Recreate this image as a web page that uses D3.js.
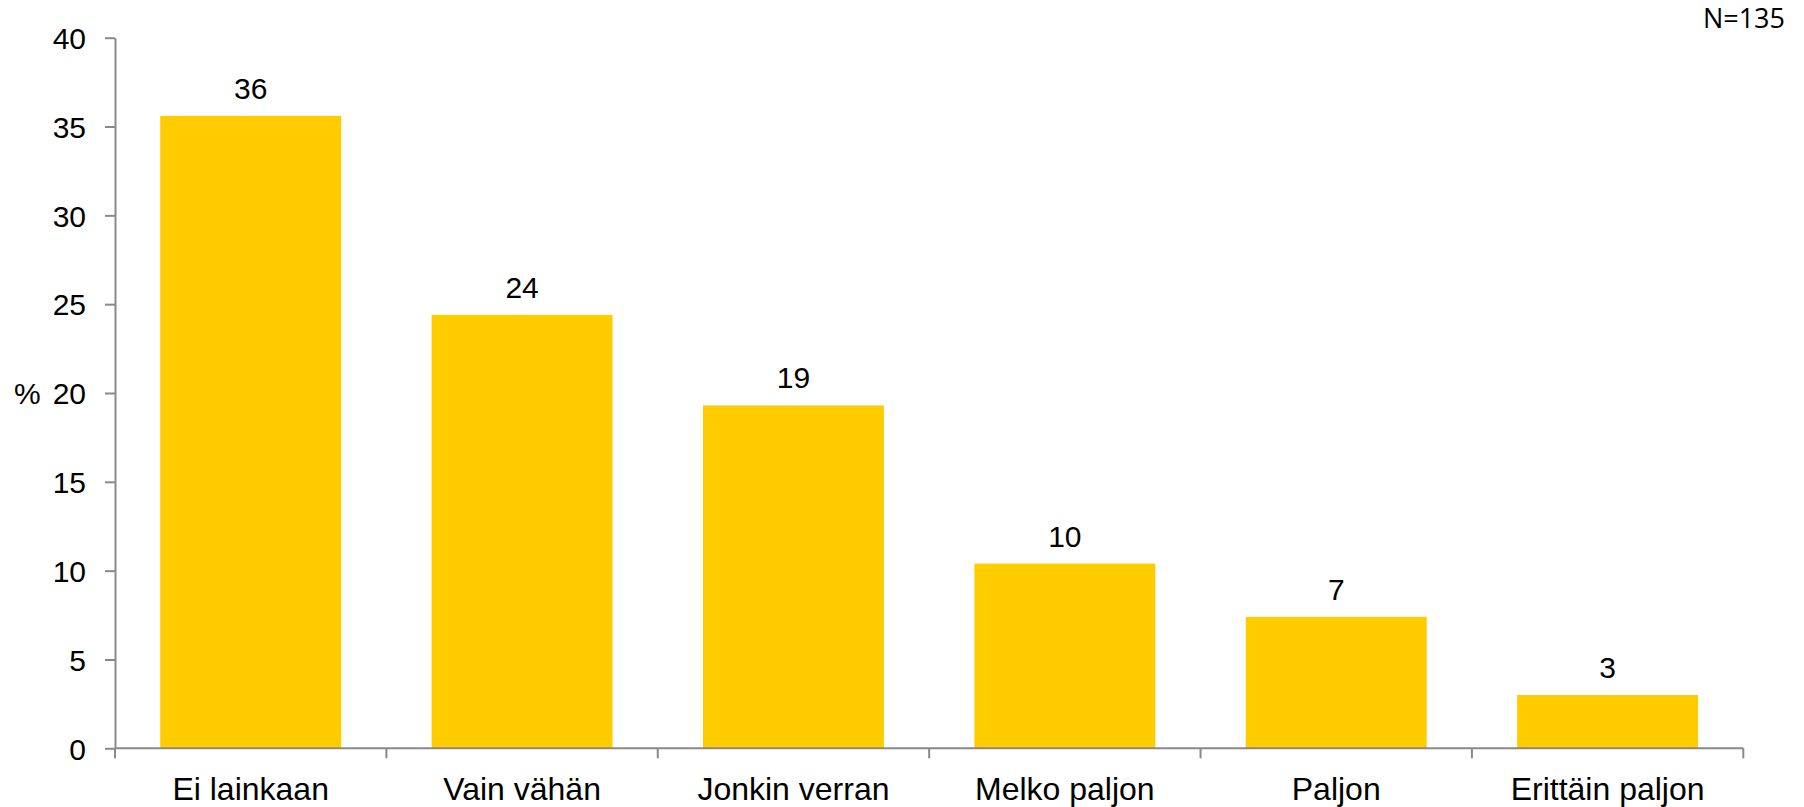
<!DOCTYPE html>
<html lang="fi">
<head>
<meta charset="utf-8" />
<title>Kysely</title>
<script src="https://cdn.jsdelivr.net/npm/d3@7"></script>
<style>
  body { margin: 0; background: #fff; }
  text { font-family: "Liberation Sans", Arial, sans-serif; fill: #000; }
</style>
</head>
<body>
<div id="chart"></div>
<script>
// data (percent, N=135)
var categories = ["Ei lainkaan", "Vain vähän", "Jonkin verran", "Melko paljon", "Paljon", "Erittäin paljon"];
var values = [35.6, 24.4, 19.3, 10.4, 7.4, 3.0];
var valueLabels = ["36", "24", "19", "10", "7", "3"];
var yTicks = [0, 5, 10, 15, 20, 25, 30, 35, 40];

var W = 1804, H = 807;
var margin = {top: 37.7, right: 60.7, bottom: 58.7, left: 115};
var width = W - margin.left - margin.right,
    height = H - margin.top - margin.bottom;

var svg = d3.select("#chart").append("svg")
    .attr("width", W)
    .attr("height", H);

var g = svg.append("g")
    .attr("transform", "translate(" + margin.left + "," + margin.top + ")");

var x = d3.scaleBand()
  .domain(categories)
  .range([0, width])
  .paddingInner(1/3)
  .paddingOuter(1/6);

var y = d3.scaleLinear()
  .domain([0, 40])
  .range([height, 0]);

// bars
g.selectAll("rect.bar")
  .data(values)
  .enter().append("rect")
    .attr("class", "bar")
    .attr("x", function(d, i) { return x(categories[i]); })
    .attr("y", function(d) { return y(d); })
    .attr("width", x.bandwidth())
    .attr("height", function(d) { return height - y(d); })
    .attr("fill", "#ffcc00");

// value labels
g.selectAll("text.val")
  .data(values)
  .enter().append("text")
    .attr("class", "val")
    .attr("x", function(d, i) { return x(categories[i]) + x.bandwidth() / 2; })
    .attr("y", function(d) { return y(d) - 17; })
    .attr("text-anchor", "middle")
    .style("font-size", "30px")
    .text(function(d, i) { return valueLabels[i]; });

// y axis
var yAxis = g.append("g")
  .call(d3.axisLeft(y).tickValues(yTicks).tickSize(10).tickPadding(19).tickSizeOuter(0));
yAxis.selectAll("text").style("font-size", "30px").attr("dy", "0.36em");

// x axis: ticks between categories
var xEdges = d3.range(categories.length + 1).map(function(i) { return i * width / categories.length; });
var xAxis = g.append("g")
  .attr("transform", "translate(0," + height + ")");
xAxis.append("line")
  .attr("x1", 0).attr("x2", width)
  .attr("y1", 0).attr("y2", 0);
xAxis.selectAll("line.tk")
  .data(xEdges)
  .enter().append("line")
    .attr("class", "tk")
    .attr("x1", function(d) { return d; })
    .attr("x2", function(d) { return d; })
    .attr("y1", 0).attr("y2", 10);
xAxis.selectAll("text")
  .data(categories)
  .enter().append("text")
    .attr("x", function(d) { return x(d) + x.bandwidth() / 2; })
    .attr("y", 52)
    .attr("text-anchor", "middle")
    .style("font-size", "32px")
    .text(function(d) { return d; });

svg.selectAll(".domain, .tick line, line")
  .attr("stroke", "#898989")
  .attr("stroke-width", 2);

// axis title
svg.append("text")
  .attr("x", 14)
  .attr("y", margin.top + y(20))
  .attr("dy", "0.36em")
  .style("font-size", "30px")
  .text("%");

// N
svg.append("text")
  .attr("x", 1785)
  .attr("y", 28)
  .attr("text-anchor", "end")
  .style("font-family", "'Open Sans', sans-serif")
  .style("font-size", "27px")
  .text("N=135");
</script>
</body>
</html>
